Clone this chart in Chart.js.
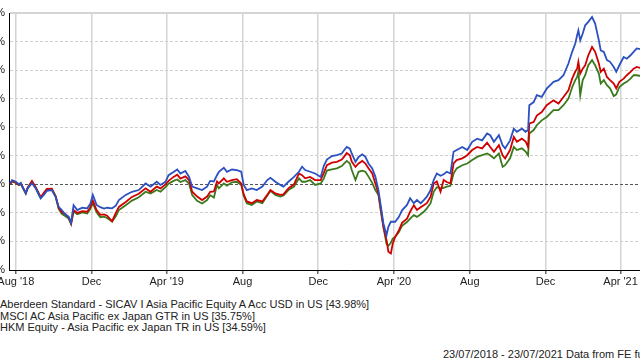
<!DOCTYPE html>
<html>
<head>
<meta charset="utf-8">
<script src="https://cdn.jsdelivr.net/npm/chart.js@4/dist/chart.umd.min.js"></script>
<style>
    body { margin: 0; width: 640px; height: 360px; overflow: hidden; background: #fff; position: relative; font-family: "Liberation Sans", Arial, sans-serif; }
    #wrap { position: absolute; left: -31px; top: 0; width: 733px; height: 290px; }
    .legend { position: absolute; left: 0; top: 299px; font-size: 11px; line-height: 11.5px; color: #222; white-space: nowrap; }
    .source { position: absolute; left: 443px; top: 348px; font-size: 11px; color: #222; white-space: nowrap; }
</style>
</head>
<body>
<div id="wrap"><canvas id="perfChart" width="733" height="290"></canvas></div>
<div class="legend">
    <div>Aberdeen Standard - SICAV I Asia Pacific Equity A Acc USD in US [43.98%]</div>
    <div>MSCI AC Asia Pacific ex Japan GTR in US [35.75%]</div>
    <div>HKM Equity - Asia Pacific ex Japan TR in US [34.59%]</div>
</div>
<div class="source">23/07/2018 - 23/07/2021 Data from FE fundinfo2021</div>
<script>
// days since 23/07/2018
const days = [
    0, 3, 9, 14, 17, 19, 25, 28, 35, 41,
    49, 54, 59, 67, 73, 78, 83, 89, 94, 98,
    102, 108, 116, 124, 129, 133, 139, 145, 151, 156,
    164, 170, 175, 186, 196, 207, 218, 226, 236, 242,
    250, 255, 263, 269, 274, 282, 288, 293, 301, 309,
    317, 322, 328, 333, 336, 344, 349, 357, 365, 372,
    376, 381, 389, 397, 406, 414, 419, 427, 435, 440,
    448, 457, 465, 470, 475, 483, 491, 500, 505, 510,
    518, 526, 534, 538, 542, 547, 550, 556, 561, 567,
    572, 577, 583, 588, 593, 597, 601, 606, 609, 613,
    616, 620, 626, 631, 639, 644, 650, 655, 661, 666,
    671, 677, 682, 687, 693, 698, 703, 709, 714, 719,
    728, 736, 744, 752, 760, 768, 773, 779, 787, 793,
    797, 805, 811, 816, 824, 830, 834, 836, 843, 848,
    856, 864, 875, 883, 891, 899, 905, 910, 913, 915,
    918, 922, 926, 931, 937, 942, 948, 951, 956, 961,
    966, 972, 976, 981, 988, 993, 999, 1004, 1009, 1096
];

const aberdeen = [
    0.3, 1.5, 0.9, 0.0, 0.5, -0.5, -3.2, -1.4, 0.4, -1.4,
    -4.9, -3.7, -2.3, -2.0, -4.3, -7.9, -9.0, -10.7, -11.3, -13.4,
    -7.3, -9.0, -8.2, -8.4, -6.8, -3.7, -7.2, -8.0, -8.5, -8.2,
    -8.4, -7.5, -5.5, -3.7, -2.6, -2.0, 0.3, -0.8, 0.9, -0.2,
    0.9, 3.2, 4.3, 5.2, 3.8, 4.7, 2.6, -0.8, -1.4, -2.0,
    -0.8, 1.2, 1.0, 3.2, 4.4, 5.8, 4.4, 5.2, 5.0, 4.4,
    -0.2, -2.0, -1.4, -2.0, -0.8, 1.5, 2.3, 0.9, -0.2, -0.8,
    0.9, 2.6, 4.4, 6.2, 5.0, 4.4, 3.8, 2.6, 6.5, 8.7,
    9.9, 10.2, 10.8, 12.0, 13.1, 12.5, 10.8, 7.9, 9.6, 10.5,
    9.6, 7.3, 5.6, 2.7, -2.0, -7.9, -13.7, -17.8, -14.9, -13.1,
    -13.1, -13.1, -11.4, -9.1, -7.2, -4.9, -6.6, -5.5, -6.6, -5.5,
    -4.3, -2.0, 1.5, 3.8, 3.0, 3.5, 4.4, 3.8, 11.4, 12.0,
    13.1, 12.0, 14.9, 16.0, 15.4, 17.8, 17.2, 14.9, 17.2, 13.7,
    12.6, 15.4, 19.5, 18.4, 19.5, 18.4, 19.0, 27.7, 28.8, 31.2,
    30.6, 33.5, 35.9, 36.5, 38.2, 42.3, 46.4, 49.3, 52.2, 53.9,
    50.4, 52.8, 55.7, 56.9, 58.6, 56.3, 50.4, 46.9, 46.4, 43.5,
    42.9, 41.1, 39.4, 41.7, 44.6, 44.0, 45.2, 46.4, 47.6, 43.98
];

const msci = [
    0.0, 1.2, 0.6, -0.2, 0.3, -0.6, -3.0, -1.2, 1.2, -1.0,
    -4.5, -3.0, -1.6, -1.5, -4.0, -8.2, -9.8, -10.5, -11.5, -13.7,
    -9.0, -10.0, -9.4, -9.6, -8.0, -5.7, -9.0, -10.7, -10.5, -11.0,
    -13.0, -10.0, -7.9, -6.2, -4.4, -3.3, -1.4, -2.6, -0.8, -1.4,
    0.0, 1.2, 2.6, 3.4, 2.0, 2.8, 1.5, -2.6, -4.3, -5.5,
    -4.3, -2.6, -2.5, 1.0, 0.3, 2.1, 0.9, 1.5, 1.8, 0.3,
    -3.5, -6.0, -6.6, -5.5, -6.0, -3.7, -2.0, -3.2, -3.7, -3.5,
    -1.4, 0.0, 3.8, 3.2, 2.1, 2.6, 1.5, 1.5, 4.0, 6.7,
    7.6, 7.9, 8.7, 9.8, 11.0, 10.2, 8.0, 6.1, 7.3, 8.2,
    7.3, 5.6, 3.8, 0.3, -3.2, -9.0, -14.9, -19.5, -23.6, -24.2,
    -20.8, -18.4, -16.1, -13.5, -12.0, -9.6, -7.3, -9.0, -8.0, -7.3,
    -6.6, -4.3, 0.3, 1.0, -2.6, 1.5, 0.8, 0.3, 7.3, 8.5,
    9.1, 10.2, 12.0, 13.1, 12.6, 14.6, 13.1, 11.4, 13.7, 10.2,
    9.1, 12.0, 16.6, 14.9, 16.0, 15.0, 13.1, 21.3, 21.8, 24.1,
    25.3, 27.7, 29.4, 28.3, 30.6, 32.9, 37.0, 39.5, 40.5, 42.9,
    38.8, 40.5, 41.7, 45.2, 48.1, 46.4, 42.3, 39.4, 40.5, 37.6,
    36.5, 35.3, 33.6, 35.9, 37.0, 38.2, 39.4, 40.5, 41.1, 35.75
];

const hkm = [
    -0.2, 1.0, 0.5, -0.3, 0.2, -0.7, -3.2, -1.4, 0.8, -1.2,
    -4.7, -3.3, -1.9, -1.8, -4.3, -8.6, -10.3, -11.2, -12.0, -13.9,
    -9.5, -10.5, -9.8, -10.2, -8.6, -6.5, -9.8, -11.5, -11.3, -11.8,
    -13.0, -11.2, -9.0, -7.3, -5.7, -4.5, -2.6, -3.2, -2.0, -2.6,
    -1.0, 0.2, 1.2, 1.7, 0.8, 1.5, 0.3, -3.8, -5.8, -6.7,
    -5.5, -3.8, -4.6, -0.2, -1.4, 0.3, -0.5, 0.7, 0.9, -0.2,
    -4.0, -6.6, -7.2, -6.0, -6.6, -3.9, -2.3, -3.7, -4.3, -3.9,
    -2.0, -0.8, 2.1, 0.9, 0.9, 1.5, -0.2, 0.3, 2.0, 4.8,
    5.2, 5.6, 6.4, 7.3, 8.2, 7.3, 5.0, 1.5, 4.4, 4.8,
    4.4, 2.7, 0.5, -2.0, -3.7, -9.6, -14.9, -20.8, -21.5, -20.5,
    -19.0, -18.4, -16.7, -14.5, -13.2, -12.0, -10.8, -11.4, -10.5, -9.6,
    -8.4, -6.6, -2.6, -1.0, -1.4, -1.2, -0.8, -0.5, 3.8, 5.6,
    6.7, 7.3, 8.5, 9.6, 10.2, 10.8, 10.2, 9.1, 10.8, 6.1,
    6.7, 9.1, 13.1, 12.0, 12.6, 11.5, 10.2, 17.8, 19.0, 20.7,
    22.4, 23.6, 26.0, 26.0, 27.7, 30.0, 34.0, 36.5, 37.6, 39.4,
    31.2, 36.5, 38.2, 41.7, 43.5, 41.7, 38.8, 35.3, 36.5, 34.7,
    33.6, 30.9, 31.5, 34.1, 35.3, 35.9, 37.0, 38.2, 38.2, 34.59
];

// x axis ticks (first of month, as days since start)
const tickDays = [9, 131, 252, 374, 496, 618, 740, 862, 983];
const tickLabels = ["Aug '18", 'Dec', "Apr '19", 'Aug', 'Dec', "Apr '20", 'Aug', 'Dec', "Apr '21"];

const toPoints = vals => vals.map((v, i) => ({ x: days[i], y: v }));
const fontFamily = '"Liberation Sans", Arial, sans-serif';

const perfCtx = document.getElementById('perfChart').getContext('2d');
new Chart(perfCtx, {
    type: 'line',
    data: {
        datasets: [{
            label: 'Aberdeen Standard - SICAV I Asia Pacific Equity A Acc USD in US',
            data: toPoints(aberdeen),
            borderColor: '#2b50c0'
        }, {
            label: 'MSCI AC Asia Pacific ex Japan GTR in US',
            data: toPoints(msci),
            borderColor: '#d10000'
        }, {
            label: 'HKM Equity - Asia Pacific ex Japan TR in US',
            data: toPoints(hkm),
            borderColor: '#3a7a1c'
        }]
    },
    options: {
        responsive: false,
        animation: false,
        devicePixelRatio: 1,
        layout: { padding: { top: 13, right: 10, left: 0, bottom: 0 } },
        elements: {
            line: { borderWidth: 1.8, tension: 0, fill: false },
            point: { radius: 0 }
        },
        plugins: {
            legend: { display: false },
            tooltip: { enabled: false }
        },
        scales: {
            x: {
                type: 'linear',
                min: -2,
                max: 1098,
                afterBuildTicks: function(scale) {
                    scale.ticks = tickDays.map(v => ({ value: v }));
                },
                afterFit: function(scale) { scale.height = 20; },
                ticks: {
                    autoSkip: false,
                    maxRotation: 0,
                    padding: 1,
                    color: '#222',
                    font: { family: fontFamily, size: 11 },
                    callback: function(value) {
                        const i = tickDays.indexOf(value);
                        return i >= 0 ? tickLabels[i] : '';
                    }
                },
                grid: { color: '#d4d4d4', lineWidth: 1.5, tickLength: 4, tickColor: '#666' },
                border: { color: '#000', width: 1 }
            },
            y: {
                min: -30,
                max: 60,
                afterFit: function(scale) { scale.width = 40; },
                ticks: {
                    stepSize: 10,
                    padding: 4,
                    color: '#222',
                    font: { family: fontFamily, size: 11 },
                    callback: function(value) { return value + '%'; }
                },
                grid: {
                    drawTicks: false,
                    color: function(ctx) {
                        if (!ctx.tick) return '#ccc';
                        if (ctx.tick.value === 0) return '#555';
                        if (ctx.tick.value === 60) return '#d4d4d4';
                        return '#cfcfcf';
                    },
                    lineWidth: function(ctx) {
                        return ctx.tick && ctx.tick.value === 60 ? 2 : 1;
                    }
                },
                border: {
                    color: '#000',
                    width: 1,
                    dash: function(ctx) {
                        if (!ctx.tick || ctx.tick.value === 60) return [];
                        return [3, 2];
                    }
                }
            }
        }
    }
});
</script>
</body>
</html>
